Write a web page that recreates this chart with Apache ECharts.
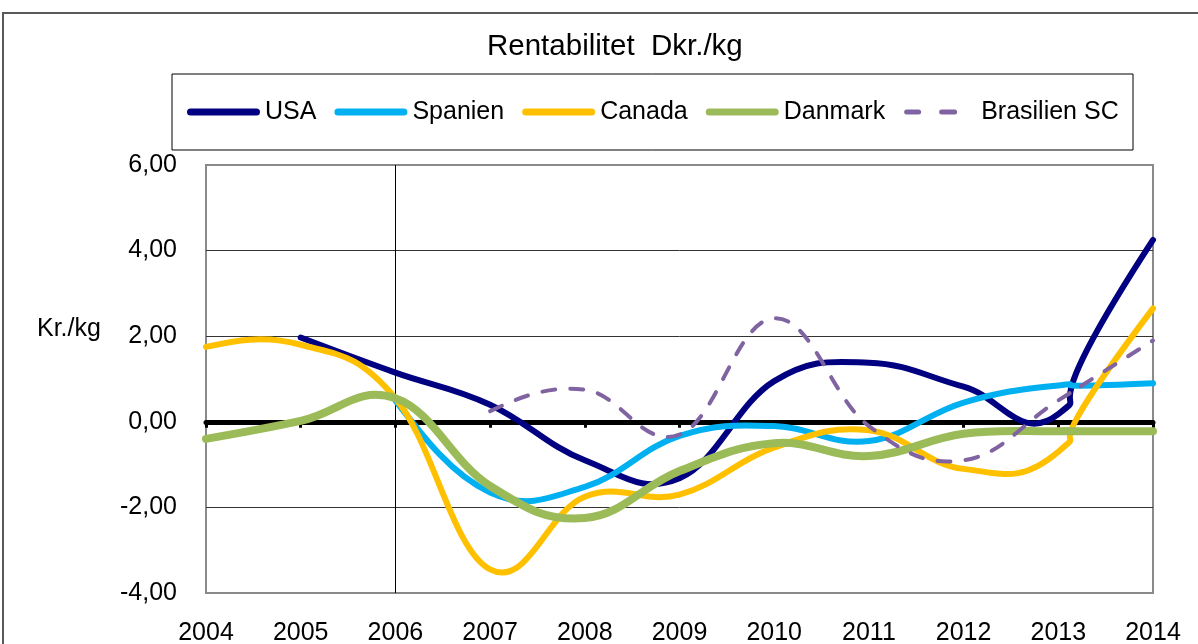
<!DOCTYPE html>
<html>
<head>
<meta charset="utf-8">
<script src="https://cdn.jsdelivr.net/npm/echarts@6/dist/echarts.min.js"></script>
<style>
  html, body { margin: 0; padding: 0; background: #fff; }
  #chart { width: 1198px; height: 644px; }
</style>
</head>
<body>
<div id="chart"></div>
<script>
// Rentabilitet Dkr./kg - linjediagram (udglattede linjer som i Excel)

var years = ['2004', '2005', '2006', '2007', '2008', '2009', '2010', '2011', '2012', '2013', '2014'];

var usa       = [null, 1.97, 1.15, 0.40, -0.90, -1.32, 0.95, 1.38, 0.82, 0.18, 4.25];
var spanien   = [null, null, 0.50, -1.65, -1.52, -0.33, -0.10, -0.45, 0.45, 0.85, 0.90];
var canada    = [1.75, 1.80, 0.55, -3.45, -1.75, -1.70, -0.60, -0.20, -1.10, -0.70, 2.65];
var danmark   = [-0.40, 0.02, 0.55, -1.50, -2.25, -1.15, -0.50, -0.80, -0.28, -0.22, -0.22];
var brasilien = [null, null, null, 0.25, 0.75, -0.30, 2.42, -0.10, -0.90, 0.50, 1.90];

var yTicks = [-4, -2, 0, 2, 4, 6];

var font = 'Liberation Sans, Arial, sans-serif';
var chart = echarts.init(document.getElementById('chart'));

// legend-ikoner: afrundet streg og to streger
var iconSolid = 'path://M3.5,0L69.5,0A3.5,3.5,0,0,1,69.5,7L3.5,7A3.5,3.5,0,0,1,3.5,0Z';
var iconDash = 'path://M0,0L0,7M73,0L73,7' +
    'M3.5,1L15.5,1A2.5,2.5,0,0,1,15.5,6L3.5,6A2.5,2.5,0,0,1,3.5,1Z' +
    'M38.5,1L51.5,1A2.5,2.5,0,0,1,51.5,6L38.5,6A2.5,2.5,0,0,1,38.5,1Z';

// Bezier-kurve gennem punkterne (Catmull-Rom, naturlige ender)
function smoothPath(pts, t) {
    if (pts.length < 2) return '';
    var d = 'M' + pts[0][0] + ',' + pts[0][1];
    for (var i = 0; i < pts.length - 1; i++) {
        var p1 = pts[i], p2 = pts[i + 1];
        var c1, c2;
        if (i > 0) {
            c1 = [p1[0] + (p2[0] - pts[i - 1][0]) * t, p1[1] + (p2[1] - pts[i - 1][1]) * t];
        }
        if (i + 2 < pts.length) {
            c2 = [p2[0] - (pts[i + 2][0] - p1[0]) * t, p2[1] - (pts[i + 2][1] - p1[1]) * t];
        }
        if (!c1 && !c2) { c1 = p1; c2 = p2; }
        if (!c1) c1 = [(p1[0] + c2[0]) / 2, (p1[1] + c2[1]) / 2];
        if (!c2) c2 = [(p2[0] + c1[0]) / 2, (p2[1] + c1[1]) / 2];
        d += 'C' + c1[0] + ',' + c1[1] + ',' + c2[0] + ',' + c2[1] + ',' + p2[0] + ',' + p2[1];
    }
    return d;
}

function curveSeries(name, values, color, width, dash) {
    var data = [];
    for (var i = 0; i < values.length; i++) {
        if (values[i] != null) data.push([i, values[i]]);
    }
    return {
        name: name,
        type: 'custom',
        xAxisIndex: 0,
        data: data,
        encode: { x: 0, y: 1 },
        itemStyle: { color: color },
        silent: true,
        renderItem: function (params, api) {
            if (params.dataIndexInside !== 0) return null;
            var pts = [];
            for (var k = 0; k < params.dataInsideLength; k++) {
                pts.push(api.coord([api.value(0, k), api.value(1, k)]));
            }
            return {
                type: 'path',
                shape: { pathData: smoothPath(pts, 0.2) },
                style: {
                    fill: 'none',
                    stroke: color,
                    lineWidth: width,
                    lineDash: dash || null,
                    lineCap: 'round',
                    lineJoin: 'round'
                }
            };
        }
    };
}

var option = {
    animation: false,
    backgroundColor: '#fff',
    textStyle: { fontFamily: font },
    title: {
        text: 'Rentabilitet  Dkr./kg',
        left: 487,
        top: 32,
        padding: 0,
        textStyle: { fontSize: 29.5, fontWeight: 'normal', color: '#000', lineHeight: 30, fontFamily: font }
    },
    legend: {
        left: 187,
        top: 97,
        padding: 0,
        itemWidth: 73,
        itemHeight: 7,
        itemGap: 18,
        symbolKeepAspect: false,
        itemStyle: { borderWidth: 0 },
        textStyle: { fontSize: 25, color: '#000', lineHeight: 30, fontFamily: font },
        data: [
            { name: 'USA', icon: iconSolid },
            { name: 'Spanien', icon: iconSolid },
            { name: 'Canada', icon: iconSolid },
            { name: 'Danmark', icon: iconSolid },
            { name: 'Brasilien SC', icon: iconDash }
        ]
    },
    graphic: [
        { type: 'rect', shape: { x: 3, y: 13, width: 1300, height: 700 }, style: { fill: 'none', stroke: '#595959', lineWidth: 2 }, z: -1 },
        { type: 'rect', shape: { x: 172, y: 74, width: 961, height: 76 }, style: { fill: 'none', stroke: '#000', lineWidth: 1 } },
        { type: 'text', left: 37, top: 317, style: { text: 'Kr./kg', fontSize: 25, fill: '#000', fontFamily: font } }
    ],
    grid: {
        left: 206,
        right: 45,
        top: 165,
        bottom: 51,
        containLabel: false,
        outerBoundsMode: 'none',
        show: true,
        borderColor: '#8a8a8a',
        borderWidth: 2,
        backgroundColor: '#fff'
    },
    xAxis: [
        {
            type: 'category',
            data: years,
            boundaryGap: false,
            position: 'bottom',
            axisLine: { show: false, onZero: false },
            axisTick: { show: false },
            axisLabel: { fontSize: 25, color: '#000', margin: 28, fontFamily: font },
            // lodret akse ved 2006
            splitLine: {
                show: true,
                interval: function (i, v) { return v === '2006'; },
                lineStyle: { color: '#000', width: 1 }
            }
        },
        {
            type: 'category',
            data: years,
            boundaryGap: false,
            position: 'bottom',
            axisLine: { show: true, onZero: true, lineStyle: { color: '#000', width: 5 } },
            axisTick: { show: true, length: 6, lineStyle: { color: '#000', width: 3 } },
            axisLabel: { show: false },
            splitLine: { show: false }
        }
    ],
    yAxis: {
        type: 'value',
        min: yTicks[0],
        max: yTicks[yTicks.length - 1],
        interval: 2,
        axisLine: { show: false },
        axisTick: { show: false },
        axisLabel: {
            fontSize: 25,
            color: '#000',
            margin: 29,
            fontFamily: font,
            formatter: function (v) { return v.toFixed(2).replace('.', ','); }
        },
        splitLine: {
            show: true,
            lineStyle: { color: ['#8a8a8a', '#333', '#333', '#333', '#333', '#8a8a8a'], width: 1 }
        }
    },
    series: [
        curveSeries('USA', usa, '#000080', 6),
        curveSeries('Spanien', spanien, '#00B0F0', 6),
        curveSeries('Canada', canada, '#FFC000', 6),
        curveSeries('Danmark', danmark, '#9BBB59', 8),
        curveSeries('Brasilien SC', brasilien, '#8064A2', 4, [13, 15])
    ]
};

chart.setOption(option);
</script>
</body>
</html>
